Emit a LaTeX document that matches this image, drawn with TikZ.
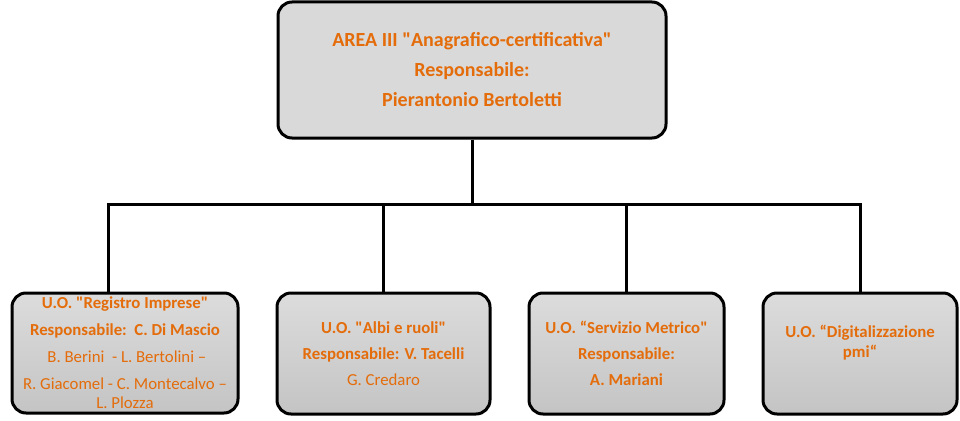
\documentclass[tikz,border=0pt]{standalone}
\usepackage{fontspec}
\setmainfont{Carlito}
\newcommand{\dq}{\textquotedbl}
\definecolor{orgtext}{HTML}{E46C0A}
\definecolor{boxtop}{HTML}{DCDCDC}
\definecolor{boxbot}{HTML}{C4C4C4}
\definecolor{topfill}{HTML}{D9D9D9}
\tikzset{
  orgbox/.style={draw=black, line width=3pt, rounded corners=14pt,
    top color=boxtop, bottom color=boxbot, text=orgtext, align=center,
    inner sep=0pt},
  headbox/.style={orgbox, top color=topfill, bottom color=topfill},
  conn/.style={draw=black, line width=3pt}
}
\begin{document}
\begin{tikzpicture}[x=1pt,y=-1pt]
\useasboundingbox (0,0) rectangle (960,420);
\node[headbox, minimum width=388pt, minimum height=136pt,
  font=\fontsize{20}{30}\selectfont\bfseries] (top) at (472,70)
  {AREA III \dq Anagrafico-certificativa\dq\\
   Responsabile:\\ Pierantonio Bertoletti};
\node[orgbox, minimum width=226pt, minimum height=120pt,
  font=\fontsize{16.8}{27}\selectfont] (b1) at (125,353)
  {\textbf{U.O. \dq Registro Imprese\dq}\\
   \textbf{Responsabile:\ \ C. Di Mascio}\\
   \ B. Berini\ \ - L. Bertolini --\\
   R. Giacomel - C. Montecalvo --\\[-8pt]
   L. Plozza};
\node[orgbox, minimum width=213pt, minimum height=121pt,
  font=\fontsize{16.8}{26}\selectfont] (b2) at (383.5,353.5)
  {\textbf{U.O. \dq Albi e ruoli\dq}\\
   \textbf{Responsabile: V. Tacelli}\\ G. Credaro};
\node[orgbox, minimum width=195pt, minimum height=121pt,
  font=\fontsize{16.8}{26}\selectfont\bfseries] (b3) at (626.5,353.5)
  {U.O. ``Servizio Metrico\dq\\
   Responsabile:\\ A. Mariani};
\node[orgbox, minimum width=194pt, minimum height=121pt,
  font=\fontsize{16.8}{20}\selectfont\bfseries] (b4) at (860,353.5)
  {U.O. ``Digitalizzazione\\ pmi``\\[4pt] \mbox{}};
\coordinate (hub) at (472,204);
\coordinate (j1) at (108,204);
\coordinate (j4) at (860,204);
\draw[conn] (top.south) -- (hub);
\draw[conn, line cap=rect] (j1) -- (j4);
\draw[conn] (j1) -- (j1 |- b1.north);
\draw[conn] (b2.north |- hub) -- (b2.north);
\draw[conn] (b3.north |- hub) -- (b3.north);
\draw[conn] (j4) -- (b4.north);
\end{tikzpicture}
\end{document}
